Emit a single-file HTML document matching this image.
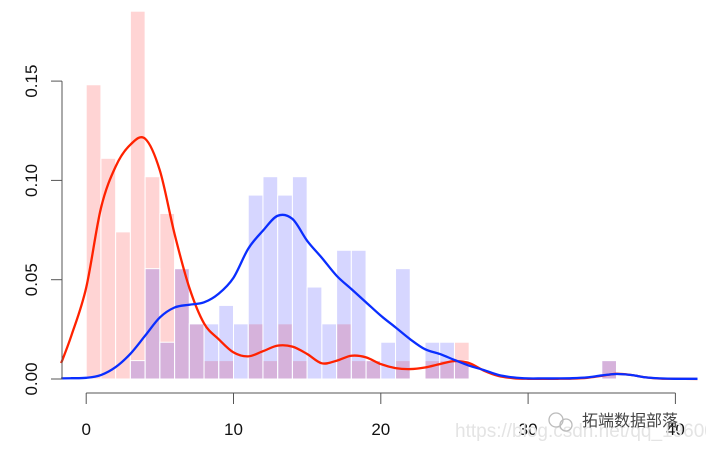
<!DOCTYPE html>
<html><head><meta charset="utf-8"><style>
html,body{margin:0;padding:0;background:#fff;}
svg{display:block;font-family:"Liberation Sans","Noto Sans CJK SC",sans-serif;}
</style></head><body>
<svg id="chart" width="706" height="449" viewBox="0 0 706 449">
<g id="bars"></g>
<g id="curves"></g>
<g id="axes"></g>
<text x="455" y="437" font-size="19" fill="#e4e4e4">https://blog.csdn.net/qq_19600291</text>
<g>
<circle cx="556" cy="420" r="7" fill="none" stroke="#bbb" stroke-width="1.3"/>
<circle cx="566" cy="425" r="6" fill="none" stroke="#bbb" stroke-width="1.3"/>
<text x="582" y="426" font-size="16" fill="#444">拓端数据部落</text>
</g>
</svg>
<script>
const binStarts = [0,1,2,3,4,5,6,7,8,9,10,11,12,13,14,15,16,17,18,19,20,21,22,23,24,25,35];
const redCounts = [16,12,8,20,11,9,6,3,1,1,0,3,1,3,1,0,0,3,1,1,0,1,0,1,1,2,1];
const blueCounts = [0,0,0,1,6,2,6,3,3,4,3,10,11,10,11,5,3,7,7,1,2,6,0,2,2,1,1];
const unitDensity = 0.00926;
const densX = [-1.7,-1,0,1,2,3,4,5,6,7,8,9,10,11,12,13,14,15,16,17,18,19,20,21,22,23,24,25,26,27,28,29,30,31,32,33,34,35,36,37,38,39,40,41.5];
const redDens = [0.008,0.022,0.046,0.086,0.107,0.118,0.121,0.105,0.073,0.046,0.028,0.02,0.0134,0.0114,0.014,0.0168,0.0163,0.0126,0.0079,0.0092,0.0117,0.0109,0.0075,0.0055,0.005,0.0058,0.0075,0.009,0.008,0.0042,0.0015,0.0004,0.0001,0.0001,0.0001,0.0002,0.0006,0.0016,0.0026,0.002,0.0008,0.0002,0.0001,0];
const blueDens = [0.0003,0.0004,0.0006,0.002,0.006,0.0127,0.0218,0.031,0.036,0.0374,0.0386,0.043,0.051,0.0656,0.0747,0.0822,0.0806,0.0696,0.061,0.052,0.0453,0.0386,0.0319,0.026,0.02,0.015,0.0126,0.0096,0.0067,0.0045,0.002,0.0008,0.0003,0.0003,0.0003,0.0004,0.0008,0.0018,0.0025,0.002,0.0008,0.0003,0.0001,0.0001];
const xTicks = [0,10,20,30,40];
const yTicks = [0,0.05,0.10,0.15];
const yTickLabels = ["0.00","0.05","0.10","0.15"];

const NS = "http://www.w3.org/2000/svg";
const X = v => 86.2 + v * 14.73;
const Y = v => 379 - v * 1986;
function mk(tag, attrs, parent){const e=document.createElementNS(NS,tag);for(const k in attrs)e.setAttribute(k,attrs[k]);parent.appendChild(e);return e;}
const bars=document.getElementById('bars');
binStarts.forEach((b,i)=>{
  const r=redCounts[i]*unitDensity;
  if(r>0){const el=mk('rect',{x:X(b),y:Y(r),width:X(b+1)-X(b),height:Y(0)-Y(r),fill:'rgba(255,0,0,0.17)',stroke:'#fff','stroke-width':1},bars);
  
  }
});
binStarts.forEach((b,i)=>{
  const v=blueCounts[i]*unitDensity;
  if(v>0){const el=mk('rect',{x:X(b),y:Y(v),width:X(b+1)-X(b),height:Y(0)-Y(v),fill:'rgba(0,0,255,0.16)',stroke:'#fff','stroke-width':1},bars);
  
  }
});
function smooth(xs,ys){
  const p=xs.map((x,i)=>[X(x),Y(ys[i])]);
  let d='M'+p[0][0]+','+p[0][1];
  for(let i=0;i<p.length-1;i++){
    const p0=p[i-1]||p[i],p1=p[i],p2=p[i+1],p3=p[i+2]||p2;
    const c1=[p1[0]+(p2[0]-p0[0])/6,p1[1]+(p2[1]-p0[1])/6];
    const c2=[p2[0]-(p3[0]-p1[0])/6,p2[1]-(p3[1]-p1[1])/6];
    d+=' C'+c1+' '+c2+' '+p2;
  }
  return d;
}
const curves=document.getElementById('curves');
const rc=mk('path',{d:smooth(densX,redDens),fill:'none',stroke:'#ff2200','stroke-width':2.3},curves);


const bc=mk('path',{d:smooth(densX,blueDens),fill:'none',stroke:'#0a2eff','stroke-width':2.3},curves);


const axes=document.getElementById('axes');
const ya=mk('line',{x1:62,x2:62,y1:Y(0),y2:Y(0.15),stroke:'#555','stroke-width':1},axes);


yTicks.forEach((t,i)=>{
  mk('line',{x1:51,x2:62,y1:Y(t),y2:Y(t),stroke:'#555'},axes);
  const tx=mk('text',{x:0,y:0,'font-size':17,'text-anchor':'middle',fill:'#111',transform:`translate(37,${Y(t)}) rotate(-90)`},axes);
  tx.textContent=yTickLabels[i];
  
  
});
const xa=mk('line',{x1:X(0),x2:X(40),y1:393,y2:393,stroke:'#555'},axes);


xTicks.forEach(t=>{
  mk('line',{x1:X(t),x2:X(t),y1:393,y2:404,stroke:'#555'},axes);
  const tx=mk('text',{x:X(t),y:435,'font-size':17,'text-anchor':'middle',fill:'#111'},axes);
  tx.textContent=String(t);
  
  
});
</script>
</body></html>
